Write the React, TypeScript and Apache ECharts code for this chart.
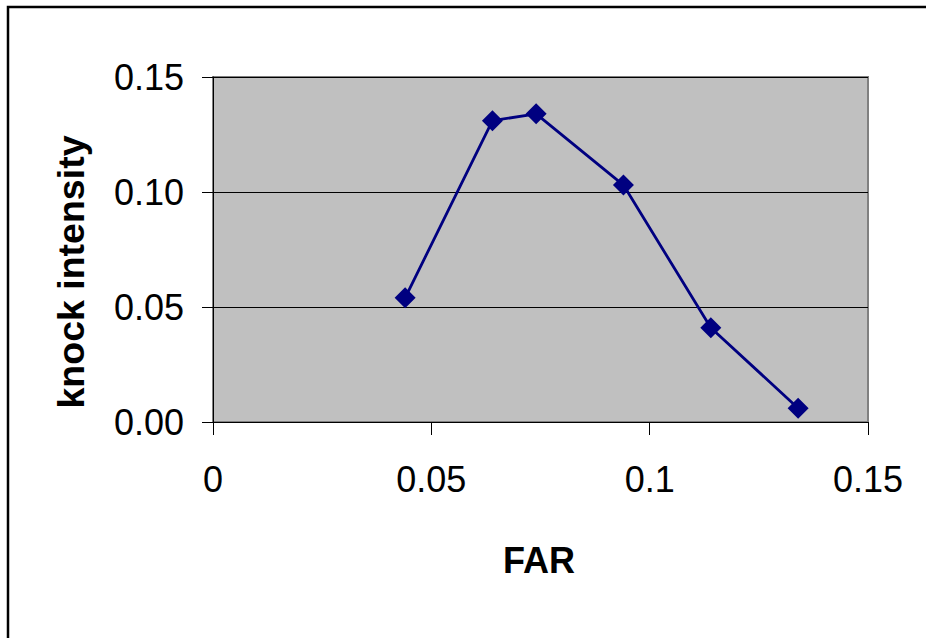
import React, { useEffect, useRef } from "react";
import * as echarts from "echarts";

const farValues = [0.044, 0.064, 0.074, 0.094, 0.114, 0.134];
const knockValues = [0.054, 0.131, 0.134, 0.103, 0.041, 0.006];
const xTitle = "FAR";
const yTitle = "knock intensity";

export default function App() {
  const ref = useRef<HTMLDivElement>(null);
  useEffect(() => {
    if (!ref.current) return;
    const chart = echarts.init(ref.current, undefined, { renderer: "svg" });
    const font = "Liberation Sans, Arial, sans-serif";
    chart.setOption({
      animation: false,
      backgroundColor: "#ffffff",
      textStyle: { fontFamily: font },
      grid: {
        left: 213,
        top: 77,
        width: 655,
        height: 345,
        show: true,
        backgroundColor: "#c0c0c0",
        borderColor: "#808080",
        borderWidth: 2,
      },
      xAxis: {
        type: "value",
        min: 0,
        max: 0.15,
        interval: 0.05,
        axisLine: { show: true, onZero: false, lineStyle: { color: "#000", width: 1 } },
        axisTick: { show: true, inside: false, length: 13, lineStyle: { color: "#000" } },
        axisLabel: { fontSize: 36, color: "#000", margin: 39, fontFamily: font },
        splitLine: { show: false },
      },
      yAxis: {
        type: "value",
        min: 0,
        max: 0.15,
        interval: 0.05,
        axisLine: { show: true, lineStyle: { color: "#000", width: 1 } },
        axisTick: { show: true, inside: false, length: 11, lineStyle: { color: "#000" } },
        axisLabel: {
          fontSize: 36,
          color: "#000",
          margin: 29,
          fontFamily: font,
          formatter: (v: number) => v.toFixed(2),
        },
        splitLine: { show: true, lineStyle: { color: "#000", width: 1 } },
      },
      series: [
        {
          type: "line",
          data: farValues.map((x, i) => [x, knockValues[i]]),
          symbol: "diamond",
          symbolSize: 21,
          itemStyle: { color: "#000080" },
          lineStyle: { color: "#000080", width: 2.8 },
          z: 5,
        },
      ],
      graphic: [
        {
          type: "rect",
          shape: { x: 8, y: 7, width: 2000, height: 2000 },
          style: { fill: "none", stroke: "#000", lineWidth: 2.5 },
          silent: true,
          z: 100,
        },
        {
          type: "text",
          x: 539,
          y: 560,
          style: {
            text: xTitle,
            font: `bold 36px ${font}`,
            fill: "#000",
            textAlign: "center",
            textVerticalAlign: "middle",
          },
        },
        {
          type: "text",
          x: 71,
          y: 272,
          rotation: Math.PI / 2,
          style: {
            text: yTitle,
            font: `bold 37.5px ${font}`,
            fill: "#000",
            textAlign: "center",
            textVerticalAlign: "middle",
          },
        },
      ],
    });
    return () => chart.dispose();
  }, []);
  return (
    <div
      ref={ref}
      style={{ position: "fixed", left: 0, top: 0, width: 926, height: 638 }}
    />
  );
}
